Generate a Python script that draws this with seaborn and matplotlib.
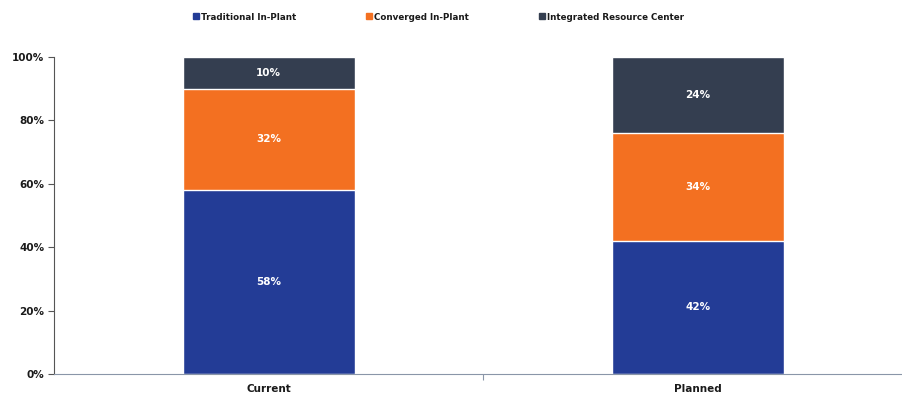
import matplotlib
matplotlib.use("Agg")
import matplotlib.pyplot as plt
from matplotlib.lines import Line2D
from matplotlib.ticker import FixedLocator
import numpy as np
import pandas as pd
import seaborn as sns

categories = ["Current", "Planned"]
series = ["Traditional In-Plant", "Converged In-Plant", "Integrated Resource Center"]
traditional = [58, 42]
converged = [32, 34]
integrated = [10, 24]
y_ticks = [0, 20, 40, 60, 80, 100]
y_tick_labels = ["0%", "20%", "40%", "60%", "80%", "100%"]

colors = ["#233C96", "#F37021", "#343E50"]

sns.set_theme(style="white")
plt.rcParams["font.family"] = ["DejaVu Sans"]

values = [traditional, converged, integrated]
cumulative = np.cumsum(np.array(values), axis=0)

fig = plt.figure(figsize=(9.03, 3.96), dpi=100)
ax = fig.add_axes([0.0598, 0.0556, 0.951, 0.8005])

# Stacked bars: draw running totals from the top segment down
for i in range(len(series) - 1, -1, -1):
    df = pd.DataFrame({"category": categories, "value": cumulative[i]})
    sns.barplot(data=df, x="category", y="value", color=colors[i],
                saturation=1, width=0.4, edgecolor="white", linewidth=1.0,
                ax=ax, zorder=2)

# Segment labels
for i in range(len(series)):
    for j, cat in enumerate(categories):
        bottom = cumulative[i][j] - values[i][j]
        ax.text(j, bottom + values[i][j] / 2, f"{values[i][j]}%",
                ha="center", va="center", color="white",
                fontsize=7.5, fontweight="bold", zorder=3)

ax.set_xlim(-0.5, 1.5)
ax.set_ylim(0, 100)
ax.set_yticks(y_ticks)
ax.set_yticklabels(y_tick_labels, fontsize=7.5, fontweight="bold", color="#1a1a1a")
ax.set_xticks(range(len(categories)))
ax.set_xticklabels(categories, fontsize=7.5, fontweight="bold", color="#1a1a1a")
ax.tick_params(axis="x", length=0, pad=7)
ax.xaxis.set_minor_locator(FixedLocator([0.5]))
ax.tick_params(axis="x", which="minor", length=4, direction="out",
               color="#8a96a8", width=0.8, bottom=True)
ax.tick_params(axis="y", length=4, direction="out", color="#555555",
               width=0.8, left=True, pad=3)
ax.set_xlabel("")
ax.set_ylabel("")

for side in ["top", "right"]:
    ax.spines[side].set_visible(False)
ax.spines["left"].set_color("#555555")
ax.spines["left"].set_linewidth(0.8)
ax.spines["bottom"].set_color("#8a96a8")
ax.spines["bottom"].set_linewidth(0.8)

handles = [Line2D([0], [0], marker="s", linestyle="none", markersize=4,
                  markerfacecolor=c, markeredgecolor=c) for c in colors]
leg = fig.legend(handles, series, loc="center", bbox_to_anchor=(0.486, 0.957),
                 ncol=3, frameon=False, handletextpad=0.3, columnspacing=8.0,
                 handlelength=0.6, borderpad=0,
                 prop={"size": 6.3, "weight": "bold"})
for t in leg.get_texts():
    t.set_color("#1a1a1a")

fig.savefig("out.png", dpi=100)
